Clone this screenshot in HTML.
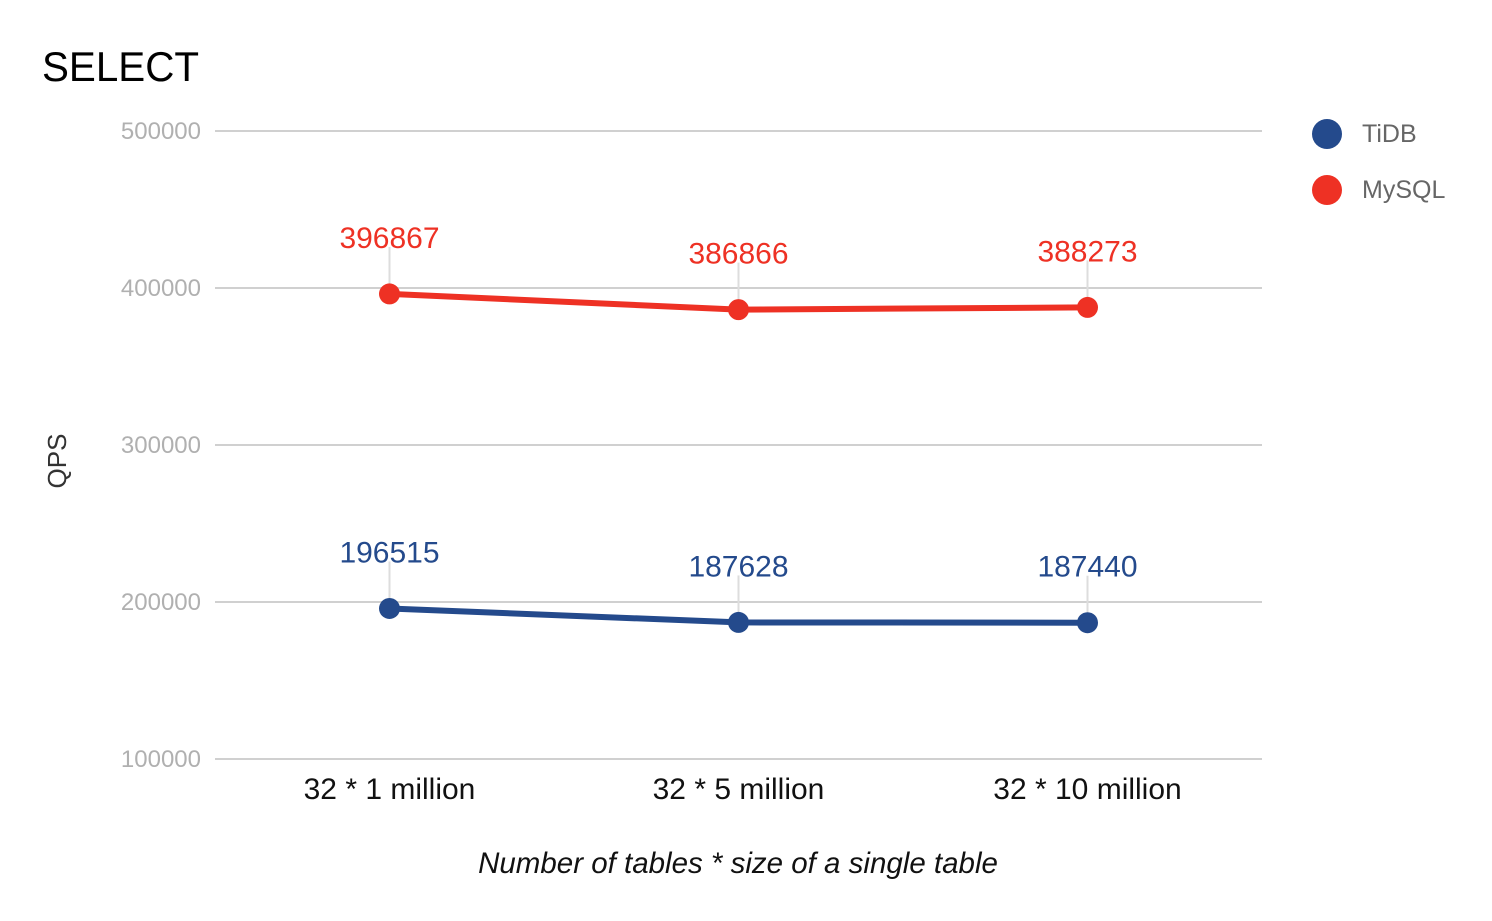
<!DOCTYPE html>
<html><head><meta charset="utf-8"><style>
body{margin:0;background:#fff;}
svg text{font-family:"Liberation Sans",sans-serif;}
</style></head><body>
<svg id="c" width="1492" height="916"></svg>
<script>
const categories=["32 * 1 million","32 * 5 million","32 * 10 million"];
const tidbValues=[196515,187628,187440];
const mysqlValues=[396867,386866,388273];
const yTicks=[100000,200000,300000,400000,500000];
const seriesNames=["TiDB","MySQL"];
const seriesColors=["#244a8c","#ee3124"];
const svg=document.getElementById('c');
const NS="http://www.w3.org/2000/svg";
const L=215,R=1262,T=131,B=759,yMin=100000,yMax=500000;
const y=v=>B-(v-yMin)/(yMax-yMin)*(B-T);
const bw=(R-L)/categories.length;
const x=i=>L+bw*(i+0.5);
function el(tag,attrs,txt){const e=document.createElementNS(NS,tag);for(const k in attrs)e.setAttribute(k,attrs[k]);if(txt!==undefined)e.textContent=txt;svg.appendChild(e);return e;}
let t=el('text',{x:42,y:81,'font-size':42,fill:'#000',textLength:157,lengthAdjust:'spacingAndGlyphs'},'SELECT');


yTicks.forEach(v=>{
  let g=el('line',{x1:L,x2:R,y1:y(v),y2:y(v),stroke:'#d0d0d0','stroke-width':2});
  
  
  let l=el('text',{x:201,y:y(v)+8,'font-size':24,fill:'#b0b0b0','text-anchor':'end'},v);
  
  
});
categories.forEach((c,i)=>{
  let l=el('text',{x:x(i),y:799,'font-size':30,fill:'#111','text-anchor':'middle'},c);
  
  
});
let yt=el('text',{x:0,y:0,'font-size':26,fill:'#333','text-anchor':'middle',transform:'translate(66,461) rotate(-90)'},'QPS');


let xt=el('text',{x:738,y:873,'font-size':29.5,fill:'#111','text-anchor':'middle','font-style':'italic'},'Number of tables * size of a single table');


[tidbValues,mysqlValues].forEach((vals,s)=>{
  const col=seriesColors[s];
  vals.forEach((v,i)=>{
    let a=el('line',{x1:x(i),x2:x(i),y1:y(v)-46,y2:y(v),stroke:'#ddd','stroke-width':2});
    
    
  });
  let p=el('polyline',{points:vals.map((v,i)=>x(i)+','+(y(v)+1)).join(' '),fill:'none',stroke:col,'stroke-width':6,'stroke-linejoin':'round'});
  
  
  vals.forEach((v,i)=>{
    let c=el('circle',{cx:x(i),cy:y(v)+1,r:10.5,fill:col});
    
    
    let l=el('text',{x:x(i),y:y(v)-45,'font-size':30,fill:col,'text-anchor':'middle'},v);
    
    
  });
  let lc=el('circle',{cx:1327,cy:134+s*56,r:15,fill:col});
  
  
  let lt=el('text',{x:1362,y:142+s*56,'font-size':25,fill:'#666'},seriesNames[s]);
  
  
});
</script>
</body></html>
